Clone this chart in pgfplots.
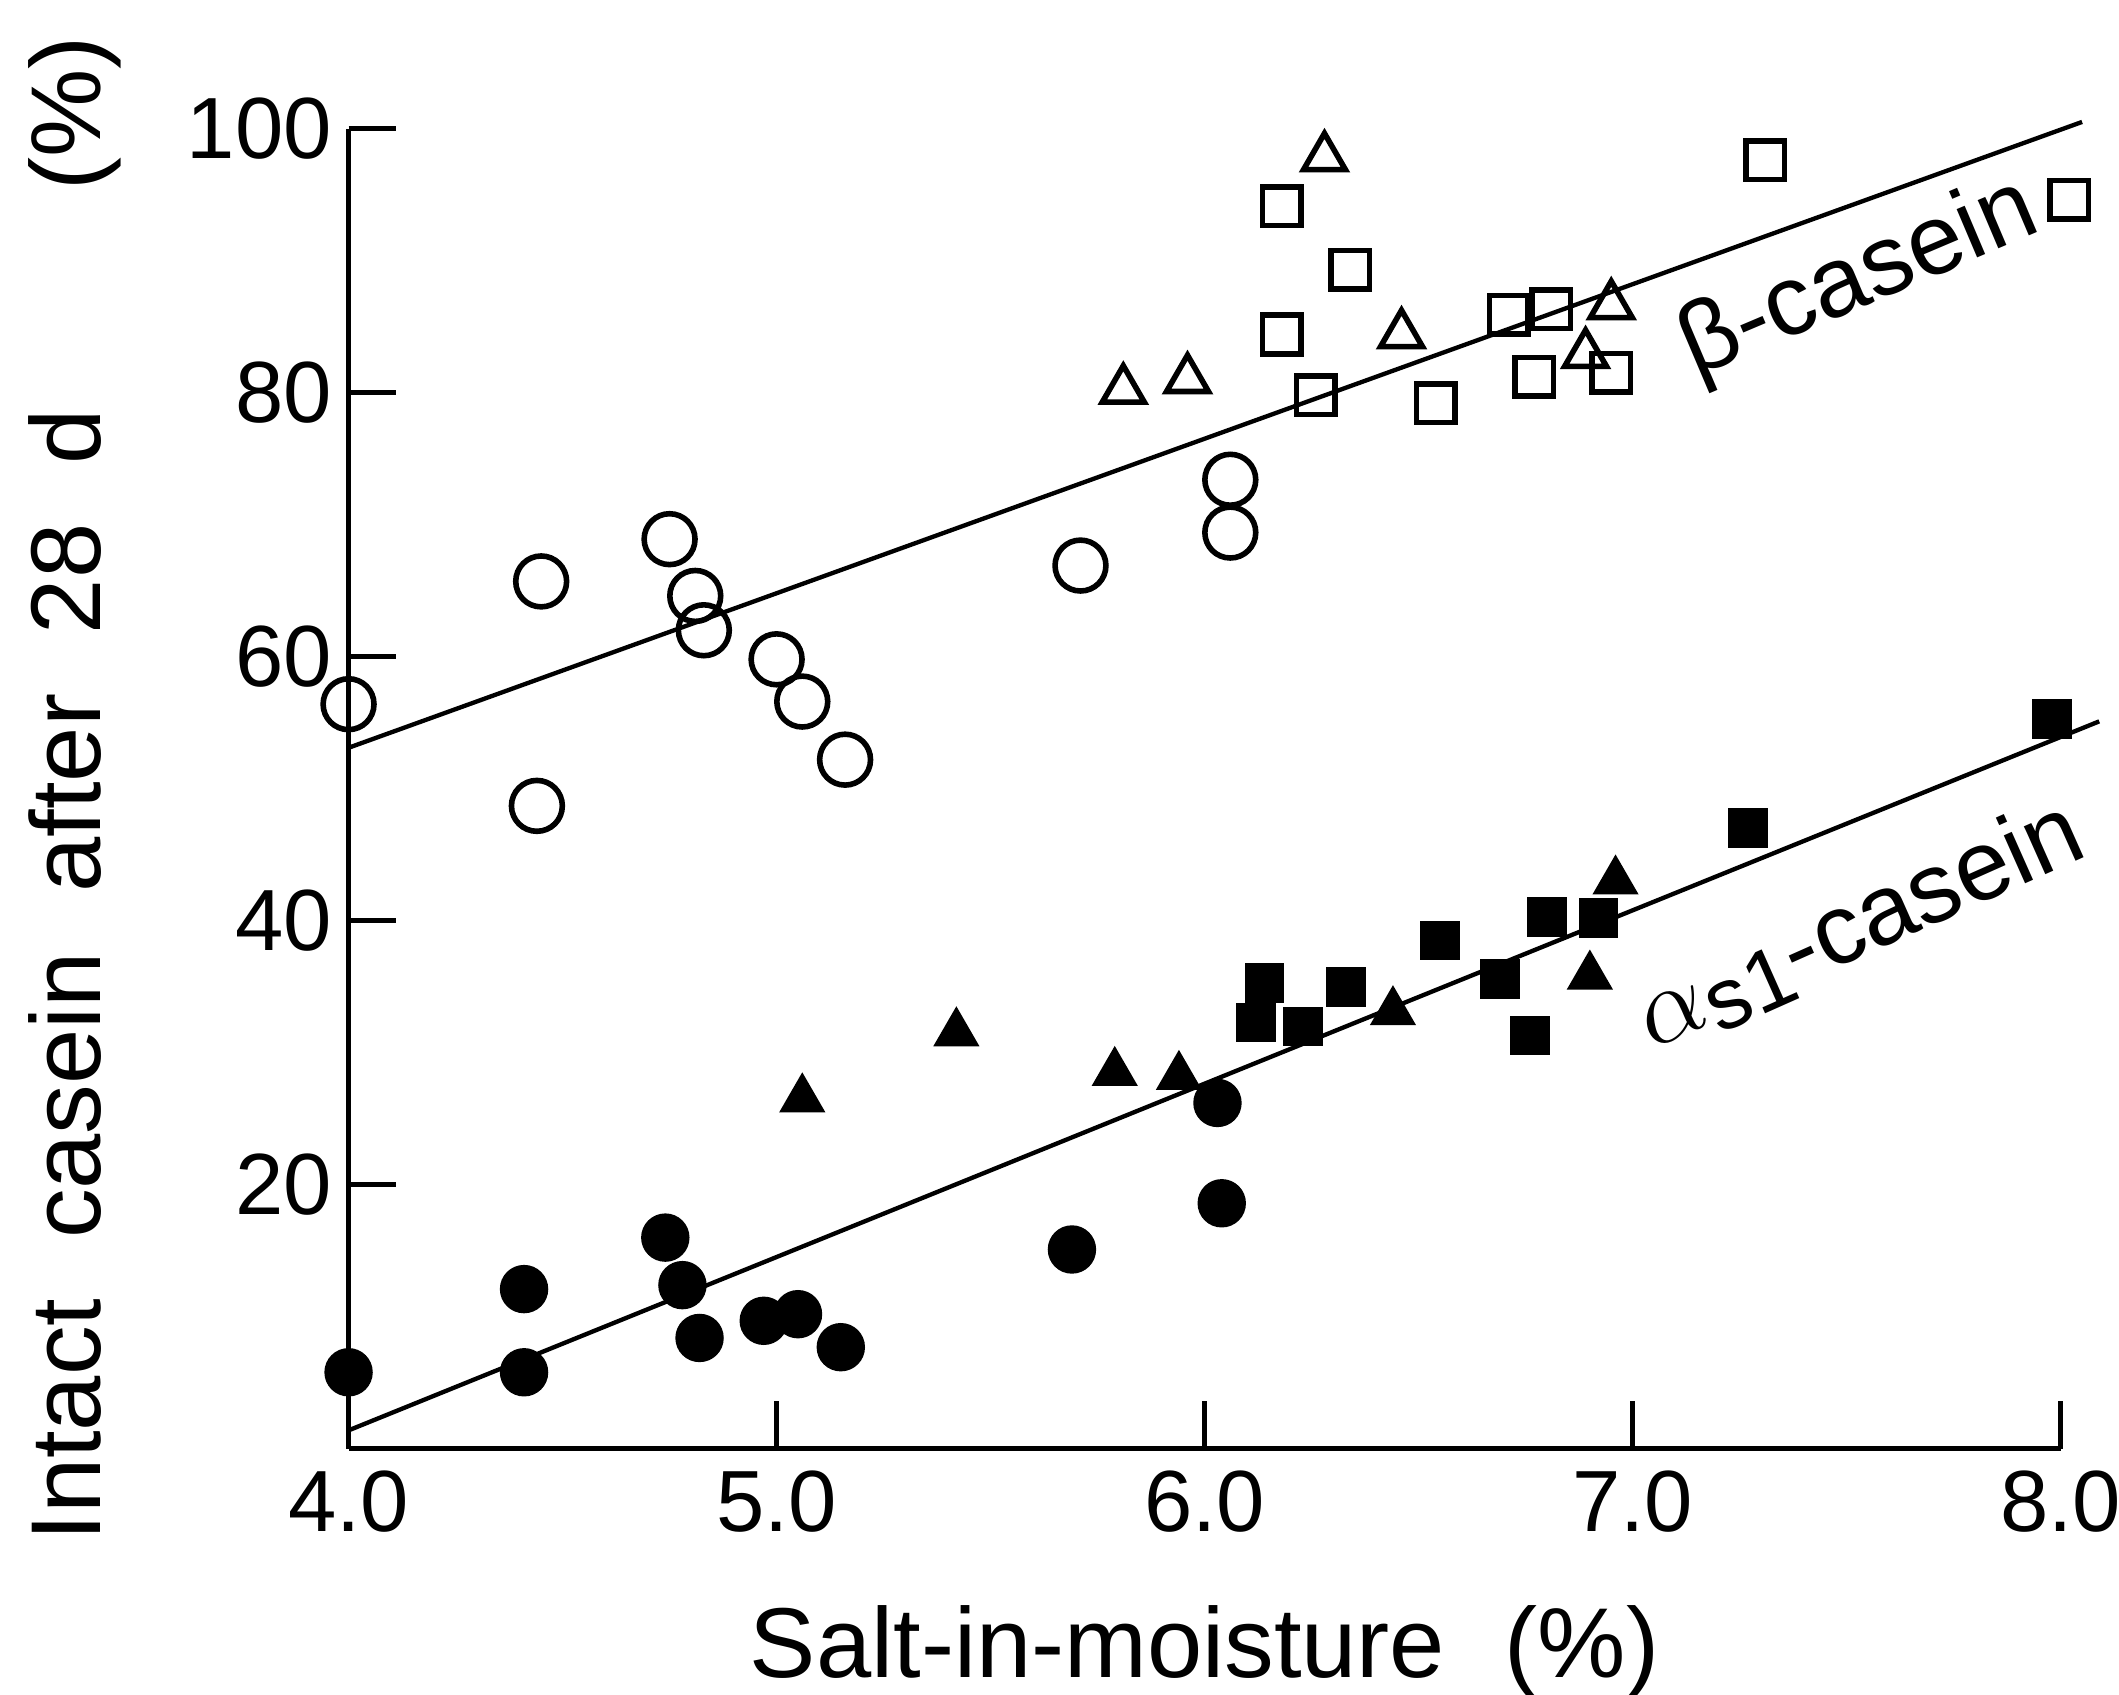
\documentclass[border=0pt]{standalone}
\usepackage{fontspec}
\setmainfont{Liberation Sans}
\usepackage{pgfplots}
\pgfplotsset{compat=1.18}

\begin{document}
\begin{tikzpicture}
\begin{axis}[
  scale only axis,
  width=9.696cm,
  height=7.477cm,
  xmin=4, xmax=8,
  ymin=0, ymax=100,
  enlargelimits=false,
  clip=false,
  axis lines=left,
  axis line style={-, line width=0.8pt},
  xtick={4,5,6,7,8},
  ytick={20,40,60,80,100},
  tick align=inside,
  major tick length=0.27cm,
  tick style={black, line width=0.8pt},
  /pgf/number format/assume math mode=true,
  x tick label style={/pgf/number format/fixed, /pgf/number format/fixed zerofill, /pgf/number format/precision=1},
  tick label style={font=\fontsize{14}{16}\selectfont},
  y tick label style={inner sep=2.5pt},
  xlabel={Salt-in-moisture\hspace{0.6em}(\%)},
  ylabel={Intact\hspace{0.6em}casein\hspace{0.6em}after\hspace{0.6em}28\hspace{0.6em}d\hspace{2.2em}(\%)},
  label style={font=\fontsize{16}{19}\selectfont},
  xlabel style={at={(axis description cs:0.5,-0.1538)}, anchor=center},
  ylabel style={at={(axis description cs:-0.16,0.5)}, anchor=center},
]
% regression lines
\addplot[black, line width=0.7pt] coordinates {(4.0,53.1) (8.05,100.5)};
\addplot[black, line width=0.7pt] coordinates {(4.0,1.4) (8.09,55.1)};

% beta-casein, open circles
\addplot[only marks, mark=o, mark size=4.1pt, mark options={line width=0.9pt, black}] coordinates {
  (4.00,56.4) (4.45,65.7) (4.44,48.7) (4.75,68.9) (4.81,64.6) (4.83,62.0)
  (5.00,59.8) (5.06,56.6) (5.16,52.2) (5.71,66.9) (6.06,73.4) (6.06,69.4)
};
% beta-casein, open triangles
\addplot[only marks, mark=triangle, mark size=3.9pt, mark options={line width=0.9pt, black}] coordinates {
  (5.81,80.2) (5.96,81.0) (6.28,97.8) (6.46,84.4) (6.89,82.9) (6.95,86.6)
};
% beta-casein, open squares
\addplot[only marks, mark=square, mark size=3.1pt, mark options={line width=0.9pt, black}] coordinates {
  (6.18,94.1) (6.18,84.4) (6.34,89.3) (6.26,79.8) (6.54,79.2) (6.71,85.9)
  (6.81,86.3) (6.77,81.2) (6.95,81.5) (7.31,97.6) (8.02,94.6)
};

% alpha-s1-casein, filled circles
\addplot[only marks, mark=*, mark size=3.7pt, mark options={black, fill=black}] coordinates {
  (4.00,5.8) (4.41,12.1) (4.41,5.8) (4.74,16.0) (4.78,12.4) (4.82,8.4)
  (4.97,9.7) (5.05,10.2) (5.15,7.7) (5.69,15.1) (6.03,26.2) (6.04,18.6)
};
% alpha-s1-casein, filled triangles
\addplot[only marks, mark=triangle*, mark size=3.9pt, mark options={black, fill=black}] coordinates {
  (5.06,26.5) (5.42,31.5) (5.79,28.5) (5.94,28.2) (6.44,33.1) (6.96,43.0) (6.90,35.8)
};
% alpha-s1-casein, filled squares
\addplot[only marks, mark=square*, mark size=3.0pt, mark options={black, fill=black}] coordinates {
  (6.14,35.3) (6.12,32.3) (6.23,32.0) (6.33,35.0) (6.55,38.5) (6.69,35.6)
  (6.80,40.3) (6.76,31.3) (6.92,40.2) (7.27,47.0) (7.98,55.3)
};

\node[rotate=23, font=\fontsize{16}{19}\selectfont] at (axis cs:7.53,88.5) {β-casein};
\node[rotate=24, font=\fontsize{16}{19}\selectfont] at (axis cs:7.53,39.6)
  {$\alpha$\raisebox{-0.25ex}{\fontsize{14}{16}\selectfont s1}-casein};
\end{axis}
\pgfresetboundingbox
\path (current axis.south west) ++(-1.974cm,-1.393cm) rectangle ++(12cm,9.598cm);
\end{tikzpicture}
\end{document}
